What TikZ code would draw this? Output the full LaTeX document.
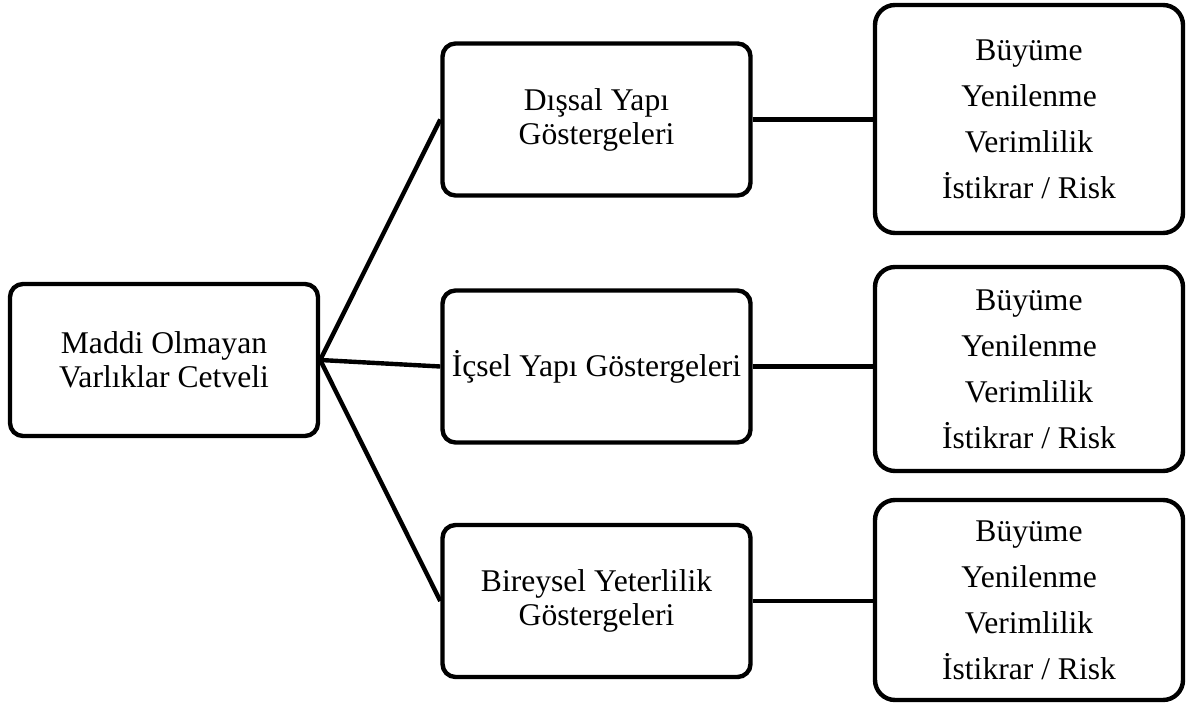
\documentclass[tikz,border=0pt]{standalone}
\usepackage{fontspec}
\setmainfont{Liberation Serif}
\begin{document}
\begin{tikzpicture}[x=0.5pt,y=-0.5pt,line width=2.2pt,
  kutu/.style={draw, rounded corners=6.5pt, align=center, minimum width=154pt, minimum height=76pt, font=\fontsize{15.8}{17}\selectfont},
  liste/.style={draw, rounded corners=10pt, align=center, minimum width=154pt, font=\fontsize{15.8}{23}\selectfont}]
\useasboundingbox (0,0) rectangle (1202,705);
\node[kutu] (mov0) at (164,360){Maddi Olmayan\\Varlıklar Cetveli};
\node[kutu] (gos1) at (596.5,119.5){Dışsal Yapı\\Göstergeleri};
\node[kutu] (gos2) at (596.5,366.5){İçsel Yapı Göstergeleri};
\node[kutu] (gos3) at (596.5,601){Bireysel Yeterlilik\\Göstergeleri};
\node[liste, minimum height=114pt] (ind1) at (1029,119){Büyüme\\Yenilenme\\Verimlilik\\İstikrar / Risk};
\node[liste, minimum height=102pt] (ind2) at (1029,369){Büyüme\\Yenilenme\\Verimlilik\\İstikrar / Risk};
\node[liste, minimum height=100pt] (ind3) at (1029,600){Büyüme\\Yenilenme\\Verimlilik\\İstikrar / Risk};
\draw[](mov0.east) -- (gos1.west);
\draw[](mov0.east) -- (gos2.west);
\draw[](mov0.east) -- (gos3.west);
\draw[](gos1.east) -- (gos1.east -| ind1.west);
\draw[](gos2.east) -- (gos2.east -| ind2.west);
\draw[](gos3.east) -- (gos3.east -| ind3.west);
\end{tikzpicture}
\end{document}
